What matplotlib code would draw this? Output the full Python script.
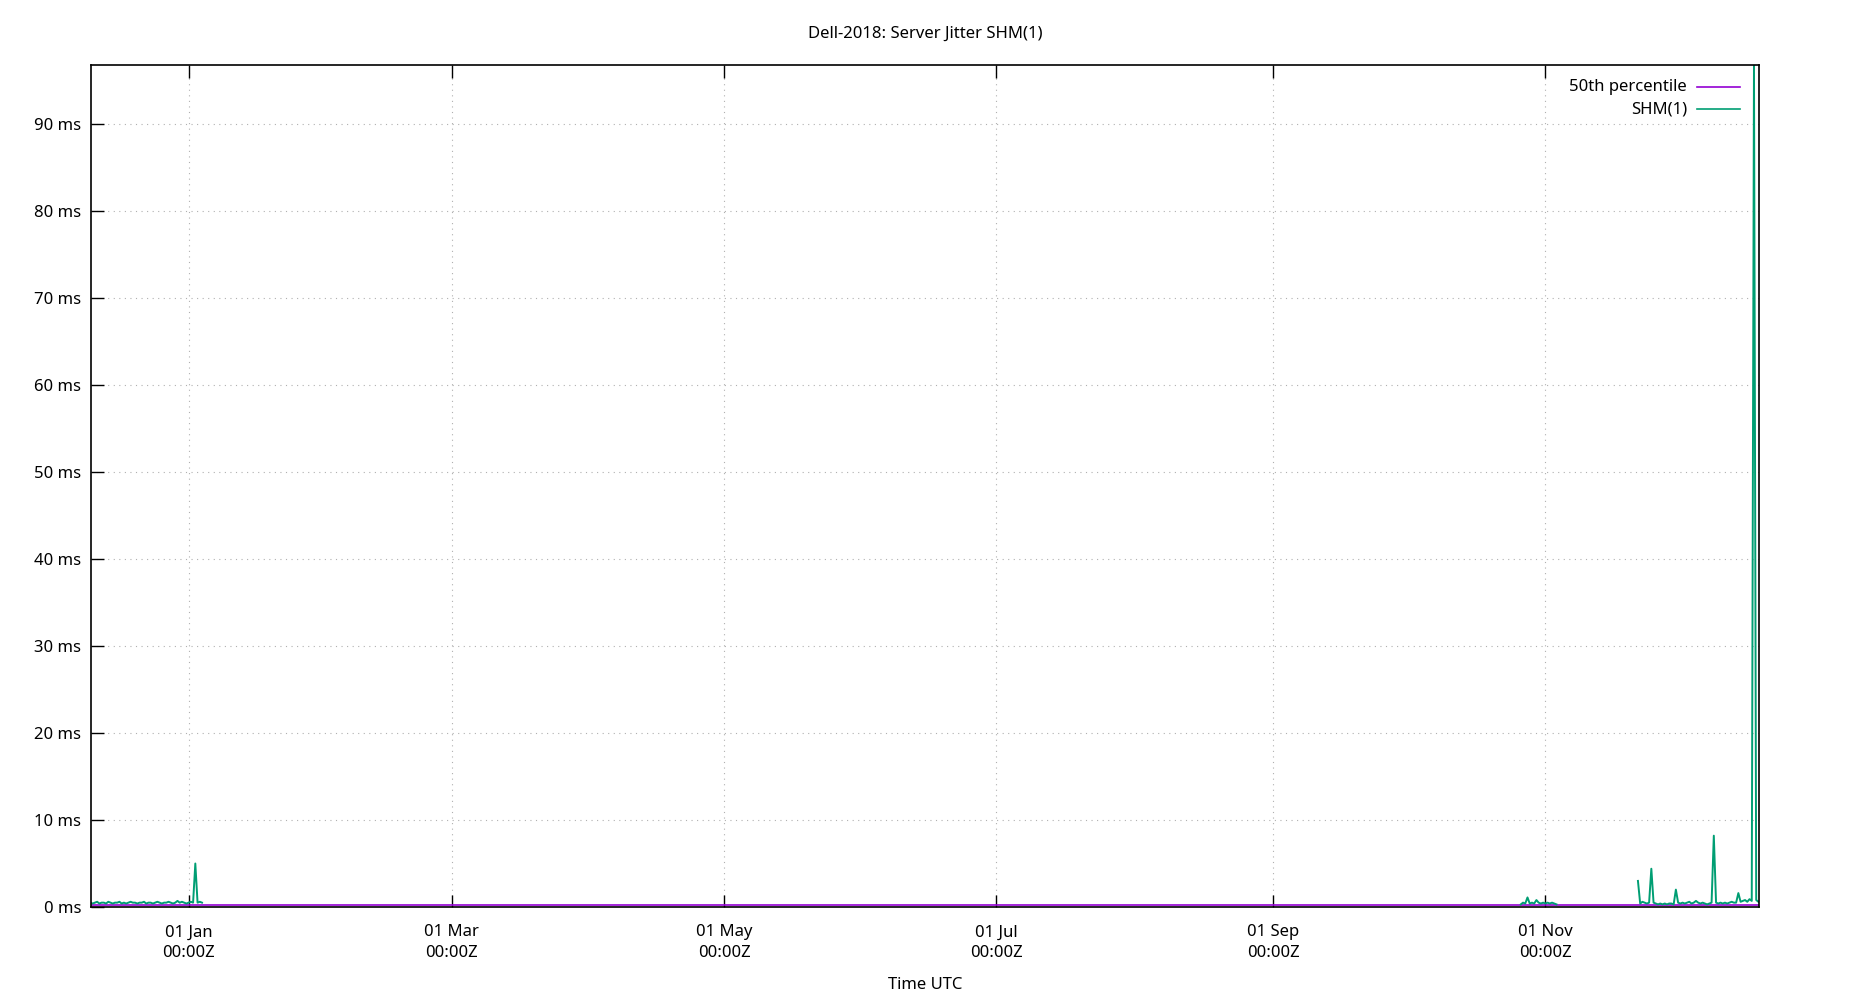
import numpy as np
import pandas as pd
import matplotlib
matplotlib.use('Agg')
import matplotlib.pyplot as plt
import matplotlib.dates as mdates
from matplotlib.ticker import FuncFormatter, MultipleLocator

plt.rcParams['font.family'] = ['Noto Sans', 'DejaVu Sans']
plt.rcParams['font.size'] = 12

# SHM(1) server jitter, ms, sampled every 12h where data exists
seg1_start = '2018-12-10 00:00'
seg1_ms = [0.5, 0.4, 0.5, 0.6, 0.4, 0.5, 0.5, 0.4, 0.6, 0.5,
           0.4, 0.5, 0.5, 0.6, 0.4, 0.5, 0.4, 0.5, 0.6, 0.5,
           0.5, 0.4, 0.5, 0.5, 0.6, 0.4, 0.5, 0.5, 0.4, 0.5,
           0.6, 0.5, 0.4, 0.5, 0.5, 0.6, 0.5, 0.4, 0.5, 0.7,
           0.5, 0.6, 0.5, 0.4, 0.5, 0.6, 0.5, 5.0, 0.5, 0.6, 0.5]

seg2_start = '2019-10-26 12:00'
seg2_ms = [0.3, 0.5, 0.4, 1.1, 0.4, 0.5, 0.4, 0.8, 0.5, 0.4,
           0.5, 0.4, 0.5, 0.4, 0.5, 0.4, 0.3]

seg3_start = '2019-11-21 18:00'
seg3_ms = [3.0, 0.4, 0.6, 0.5, 0.4, 0.5, 4.4, 0.5, 0.4, 0.3,
           0.4, 0.3, 0.4, 0.3, 0.4, 0.4, 0.3, 2.0, 0.5, 0.4,
           0.5, 0.4, 0.5, 0.6, 0.4, 0.5, 0.7, 0.5, 0.4, 0.5,
           0.4, 0.3, 0.4, 0.5, 8.2, 0.5, 0.4, 0.5, 0.4, 0.5,
           0.4, 0.5, 0.6, 0.5, 0.5, 1.6, 0.6, 0.7, 0.8, 0.6,
           0.9, 0.7, 96.8, 0.8, 0.6]

# 50th percentile over whole period
median_ms = 0.2
x_first = pd.Timestamp('2018-12-10 03:00')
x_last = pd.Timestamp('2019-12-18 21:00')
y_top = 96.8

title = 'Dell-2018: Server Jitter SHM(1)'

fig = plt.figure(figsize=(18.5, 10), dpi=100)
ax = fig.add_axes([91 / 1850, 1 - 907 / 1000, (1759 - 91) / 1850, (907 - 65) / 1000])

purple = '#9400d3'
green = '#009e73'

ax.plot([x_first, x_last], [median_ms, median_ms], color=purple, lw=1.2)
for start, vals in [(seg1_start, seg1_ms), (seg2_start, seg2_ms), (seg3_start, seg3_ms)]:
    t = pd.date_range(start, periods=len(vals), freq='12h')
    ax.plot(t, vals, color=green, lw=1.4)

ax.set_xlim(x_first, x_last)
ax.set_ylim(0, y_top)

ax.xaxis.set_major_locator(mdates.MonthLocator(bymonth=[1, 3, 5, 7, 9, 11]))
ax.xaxis.set_major_formatter(mdates.DateFormatter('%d %b\n%H:%MZ'))
ax.yaxis.set_major_locator(MultipleLocator(10))
ax.yaxis.set_major_formatter(FuncFormatter(lambda v, p: '%d ms' % v))

ax.tick_params(direction='in', length=9, width=1, top=True, right=False, labelsize=12)
ax.tick_params(axis='x', pad=12.5)
ax.tick_params(axis='y', pad=7)
for lab in ax.get_xticklabels():
    lab.set_linespacing(1.4)
for s in ax.spines.values():
    s.set_linewidth(1.2)

ax.grid(True, linestyle=(0, (1, 4)), color='#b0b0b0', lw=0.8)

# legend, text right-aligned with sample to the right
ax.text(0.9568, 0.9735, '50th percentile', transform=ax.transAxes, ha='right', va='center')
ax.text(0.9568, 0.9474, 'SHM(1)', transform=ax.transAxes, ha='right', va='center')
ax.plot([0.9628, 0.9885], [0.9735, 0.9735], color=purple, lw=1.2, transform=ax.transAxes)
ax.plot([0.9628, 0.9885], [0.9474, 0.9474], color=green, lw=1.2, transform=ax.transAxes)

fig.text(0.5, 1 - 34 / 1000, title, ha='center', va='center', fontsize=12)
fig.text(0.5, 1 - 985 / 1000, 'Time UTC', ha='center', va='center', fontsize=12)

fig.savefig('out.png', dpi=100)
